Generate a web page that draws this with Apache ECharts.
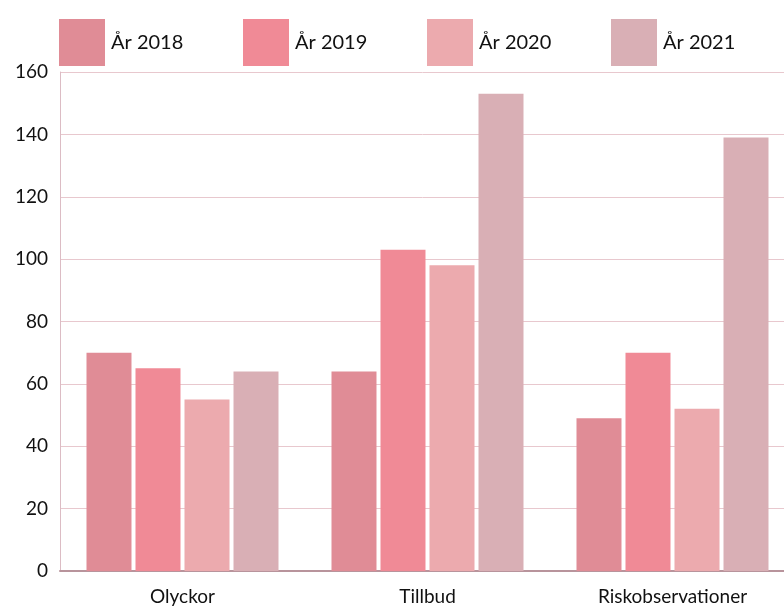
<!DOCTYPE html>
<html><head><meta charset="utf-8">
<script src="https://cdn.jsdelivr.net/npm/echarts@6/dist/echarts.min.js"></script>
<style>html,body{margin:0;padding:0;background:#fff}#c{width:784px;height:610px}</style>
</head><body><div id="c"></div>
<script>
const categories = ['Olyckor', 'Tillbud', 'Riskobservationer'];
const seriesNames = ['År 2018', 'År 2019', 'År 2020', 'År 2021'];
const v2018 = [70, 64, 49];
const v2019 = [65, 103, 70];
const v2020 = [55, 98, 52];
const v2021 = [64, 153, 139];
const colors = ['#e08c96', '#f08a96', '#ecaaae', '#d9afb5'];
const values = [v2018, v2019, v2020, v2021];
const font = 'Lato, "Noto Sans", sans-serif';
const legendLefts = [59, 243, 427, 611];

const chart = echarts.init(document.getElementById('c'));
chart.setOption({
  animation: false,
  legend: seriesNames.map((n, i) => ({
    data: [n], left: legendLefts[i], top: 19, itemWidth: 46, itemHeight: 47,
    itemGap: 0, padding: 0, icon: 'rect', selectedMode: false,
    textStyle: { fontFamily: font, fontSize: 20, color: '#111', padding: [8, 0, 0, 1] }
  })),
  grid: { left: 60, top: 72, bottom: 39, right: -11, outerBoundsMode: 'none', containLabel: false },
  xAxis: {
    type: 'category', data: categories,
    axisLine: { lineStyle: { color: '#b8949c', width: 2 } },
    axisTick: { show: false },
    axisLabel: { fontFamily: font, fontSize: 19, color: '#111', margin: 16 }
  },
  yAxis: {
    type: 'value', min: 0, max: 160, interval: 20,
    axisLine: { show: true, lineStyle: { color: '#dcbcc4', width: 1 } },
    axisTick: { show: false },
    splitLine: { lineStyle: { color: '#e8c8ce', width: 1 } },
    axisLabel: { fontFamily: font, fontSize: 19, color: '#111', margin: 12 }
  },
  series: seriesNames.map((n, i) => ({
    name: n, type: 'bar', data: values[i], barWidth: 45, barGap: '8.9%',
    itemStyle: { color: colors[i] }
  }))
});
</script></body></html>
